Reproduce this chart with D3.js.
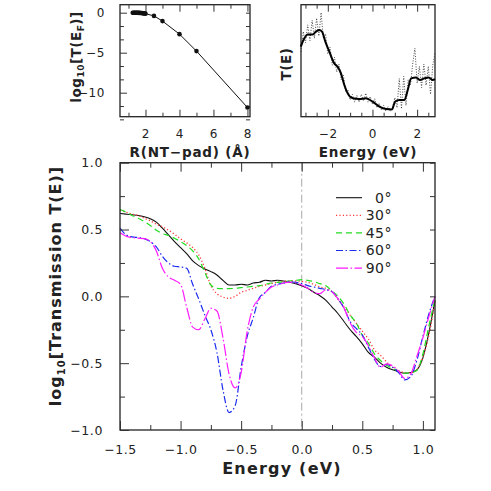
<!DOCTYPE html>
<html>
<head>
<meta charset="utf-8">
<script src="https://cdn.jsdelivr.net/npm/d3@7"></script>
<style>
  body { margin: 0; background: #fff; }
  text { font-family: "DejaVu Sans", sans-serif; fill: #222; }
  .tick text { font-size: 12px; letter-spacing: 0.6px; }
  .domain { display: none; }
  .tick line { stroke: #333; stroke-width: 1; }
</style>
</head>
<body>
<div id="chart"></div>
<script>
// ---- data: inset 1, log10 T(E_F) versus NT-pad distance ----
var padR = [1.25, 1.3, 1.35, 1.4, 1.45, 1.5, 1.55, 1.6, 1.65, 1.7, 1.75, 1.8, 1.85, 1.9, 1.95, 2.0, 2.5, 3, 4, 5, 8];
var padLogT = [0, 0, 0, 0, 0, -0.01, -0.01, -0.02, -0.02, -0.03, -0.04, -0.05, -0.06, -0.08, -0.1, -0.12, -0.4, -1.05, -2.68, -4.8, -11.85];

// ---- data: inset 2, T(E) raw (dotted) and smoothed (solid), arbitrary units ----
var rawE = [-3.2, -3.1, -3.0, -2.9, -2.8, -2.7, -2.6, -2.5, -2.4, -2.3, -2.2, -2.1, -2.0, -1.9, -1.8, -1.7, -1.6, -1.5, -1.4, -1.3,
            -1.2, -1.1, -1.0, -0.9, -0.8, -0.7, -0.6, -0.5, -0.4, -0.3, -0.2, -0.1, 0.0, 0.1, 0.2, 0.3, 0.4, 0.5, 0.6, 0.7,
            0.8, 0.9, 1.0, 1.1, 1.2, 1.3, 1.4, 1.5, 1.6, 1.7, 1.8, 1.9, 2.0, 2.1, 2.2, 2.3, 2.4, 2.5, 2.6, 2.7, 2.8];
var rawT = [0.58, 0.76, 0.66, 0.82, 0.68, 0.86, 0.70, 0.88, 0.72, 0.93, 0.70, 0.74, 0.56, 0.62, 0.46, 0.53, 0.40, 0.47, 0.33, 0.37,
            0.22, 0.24, 0.15, 0.20, 0.13, 0.19, 0.13, 0.20, 0.14, 0.21, 0.13, 0.18, 0.11, 0.16, 0.08, 0.12, 0.06, 0.10, 0.05, 0.09,
            0.05, 0.08, 0.17, 0.08, 0.34, 0.07, 0.36, 0.10, 0.33, 0.28, 0.47, 0.61, 0.30, 0.45, 0.26, 0.47, 0.28, 0.45, 0.20, 0.46, 0.57];
var smoothE = [-3.21, -3.05, -2.9, -2.68, -2.53, -2.38, -2.26, -2.11, -1.93, -1.71, -1.56, -1.41, -1.26, -1.11, -0.88, -0.59, -0.29, 0.01,
               0.31, 0.61, 0.875, 1.01, 1.2, 1.43, 1.58, 1.73, 1.95, 2.13, 2.32, 2.52, 2.7, 2.8];
var smoothT = [0.625, 0.70, 0.735, 0.735, 0.76, 0.774, 0.76, 0.67, 0.58, 0.476, 0.446, 0.387, 0.283, 0.208, 0.164, 0.158, 0.164, 0.134,
               0.089, 0.068, 0.065, 0.134, 0.149, 0.149, 0.238, 0.342, 0.351, 0.327, 0.342, 0.351, 0.327, 0.335];

// ---- data: main panel, log10 transmission for each angle ----
var energy = [-1.5, -1.45, -1.4, -1.35, -1.3, -1.25, -1.2, -1.15, -1.1, -1.05, -1.0, -0.95, -0.9, -0.85, -0.8, -0.75, -0.7, -0.65,
              -0.6, -0.55, -0.5, -0.45, -0.4, -0.35, -0.3, -0.25, -0.2, -0.15, -0.1, -0.05, 0.0, 0.05, 0.1, 0.15, 0.2, 0.25,
              0.3, 0.35, 0.4, 0.45, 0.5, 0.55, 0.6, 0.65, 0.7, 0.75, 0.8, 0.85, 0.9, 0.95, 1.0, 1.05, 1.1];
var angles = ["0°", "30°", "45°", "60°", "90°"];
var t0 = [0.62, 0.615, 0.61, 0.605, 0.595, 0.58, 0.555, 0.51, 0.46, 0.41, 0.365, 0.32, 0.265, 0.23, 0.205, 0.185, 0.16, 0.12,
          0.085, 0.085, 0.09, 0.085, 0.1, 0.105, 0.12, 0.115, 0.12, 0.115, 0.105, 0.095, 0.08, 0.06, 0.03, 0.005, -0.03, -0.08,
          -0.13, -0.19, -0.25, -0.3, -0.355, -0.42, -0.455, -0.5, -0.53, -0.55, -0.565, -0.575, -0.57, -0.55, -0.46, -0.27, -0.03];
var t30 = [0.645, 0.63, 0.615, 0.605, 0.585, 0.565, 0.54, 0.52, 0.495, 0.465, 0.43, 0.4, 0.365, 0.31, 0.21, 0.08, 0.02, -0.005,
           -0.015, 0.0, 0.03, 0.045, 0.06, 0.075, 0.085, 0.095, 0.105, 0.112, 0.115, 0.115, 0.112, 0.105, 0.09, 0.07, 0.06, 0.035,
           -0.02, -0.08, -0.14, -0.2, -0.26, -0.32, -0.4, -0.44, -0.49, -0.53, -0.555, -0.57, -0.57, -0.545, -0.455, -0.29, -0.04];
var t45 = [0.65, 0.63, 0.605, 0.585, 0.56, 0.53, 0.495, 0.47, 0.455, 0.435, 0.41, 0.38, 0.34, 0.28, 0.18, 0.085, 0.06, 0.058,
           0.058, 0.06, 0.065, 0.07, 0.075, 0.08, 0.09, 0.1, 0.105, 0.11, 0.115, 0.12, 0.125, 0.12, 0.11, 0.095, 0.08, 0.04,
           0.0, -0.06, -0.14, -0.2, -0.29, -0.35, -0.43, -0.48, -0.515, -0.54, -0.56, -0.575, -0.57, -0.555, -0.43, -0.22, -0.02];
var t60 = [0.51, 0.46, 0.445, 0.44, 0.432, 0.41, 0.37, 0.3, 0.25, 0.225, 0.22, 0.21, 0.09, -0.02, -0.14, -0.25, -0.42, -0.7,
           -0.87, -0.82, -0.53, -0.3, -0.16, -0.01, 0.03, 0.075, 0.09, 0.1, 0.11, 0.105, 0.095, 0.08, 0.07, 0.06, 0.05, 0.035,
           -0.02, -0.09, -0.19, -0.24, -0.29, -0.38, -0.47, -0.525, -0.51, -0.53, -0.57, -0.625, -0.6, -0.48, -0.3, -0.13, 0.0];
var t90 = [0.475, 0.45, 0.44, 0.435, 0.432, 0.41, 0.34, 0.21, 0.145, 0.12, 0.09, -0.08, -0.23, -0.25, -0.17, -0.09, -0.11, -0.31,
           -0.58, -0.685, -0.57, -0.26, -0.08, -0.02, 0.03, 0.07, 0.085, 0.1, 0.107, 0.1, 0.085, 0.06, 0.03, 0.02, 0.05, 0.035,
           -0.02, -0.09, -0.2, -0.27, -0.3, -0.37, -0.46, -0.53, -0.505, -0.52, -0.56, -0.615, -0.58, -0.45, -0.31, -0.15, 0.0];

var W = 491, H = 491;
var svg = d3.select("#chart").append("svg")
    .attr("width", W)
    .attr("height", H);

// helper: draw a frame with inward major/minor ticks on all sides
function frame(g, x, y, opt) {
    var x0 = x.range()[0], x1 = x.range()[1], y0 = y.range()[1], y1 = y.range()[0];
    g.append("rect")
        .attr("x", x0).attr("y", y0)
        .attr("width", x1 - x0).attr("height", y1 - y0)
        .attr("fill", "none").attr("stroke", "#222").attr("stroke-width", 1.3);
    if (opt.xMinor) {
        g.append("g").attr("transform", "translate(0," + y1 + ")")
            .call(d3.axisBottom(x).tickValues(opt.xMinor).tickSize(-opt.minor).tickFormat(""));
        g.append("g").attr("transform", "translate(0," + y0 + ")")
            .call(d3.axisTop(x).tickValues(opt.xMinor).tickSize(-opt.minor).tickFormat(""));
    }
    if (opt.xMajor) {
        g.append("g").attr("transform", "translate(0," + y1 + ")")
            .call(d3.axisBottom(x).tickValues(opt.xMajor).tickSize(-opt.major).tickPadding(opt.major + 6).tickFormat(opt.xFormat));
        g.append("g").attr("transform", "translate(0," + y0 + ")")
            .call(d3.axisTop(x).tickValues(opt.xMajor).tickSize(-opt.major).tickFormat(""));
    }
    if (opt.yMinor) {
        g.append("g").attr("transform", "translate(" + x0 + ",0)")
            .call(d3.axisLeft(y).tickValues(opt.yMinor).tickSize(-opt.minor).tickFormat(""));
        g.append("g").attr("transform", "translate(" + x1 + ",0)")
            .call(d3.axisRight(y).tickValues(opt.yMinor).tickSize(-opt.minor).tickFormat(""));
    }
    if (opt.yMajor) {
        g.append("g").attr("transform", "translate(" + x0 + ",0)")
            .call(d3.axisLeft(y).tickValues(opt.yMajor).tickSize(-opt.major).tickPadding(opt.major + 8).tickFormat(opt.yFormat));
        g.append("g").attr("transform", "translate(" + x1 + ",0)")
            .call(d3.axisRight(y).tickValues(opt.yMajor).tickSize(-opt.minor).tickFormat(""));
    }
    g.selectAll(".tick text").attr("fill", "#222");
}

var minus = function(f) { return function(d) { return d3.format(f)(d).replace("-", "−"); }; };

// ================= inset 1 =================
var xa = d3.scaleLinear().domain([0.5, 8.15]).range([120, 250]);
var ya = d3.scaleLinear().domain([-13, 1]).range([116.7, 4.7]);
var ga = svg.append("g");
frame(ga, xa, ya, {
    xMinor: [1, 3, 5, 7], xMajor: [2, 4, 6, 8], xFormat: d3.format("d"),
    yMinor: [-5/3, -10/3, -20/3, -25/3, -35/3, -40/3 + 0.001], yMajor: [0, -5, -10], yFormat: minus("d"),
    minor: 4, major: 7
});
ga.append("path")
    .datum(d3.zip(padR, padLogT))
    .attr("fill", "none").attr("stroke", "#111").attr("stroke-width", 1)
    .attr("d", d3.line().x(function(d) { return xa(d[0]); }).y(function(d) { return ya(d[1]); }));
ga.selectAll("circle").data(d3.zip(padR, padLogT)).enter().append("circle")
    .attr("cx", function(d) { return xa(d[0]); })
    .attr("cy", function(d) { return ya(d[1]); })
    .attr("r", 2.3).attr("fill", "#111");
ga.append("text").attr("x", 190).attr("y", 157).attr("text-anchor", "middle")
    .style("font-size", "13.5px").style("font-weight", "bold").style("letter-spacing", "0.8px")
    .text("R(NT−pad) (Å)");
var yla = ga.append("text").attr("transform", "translate(81,57) rotate(-90)").attr("text-anchor", "middle")
    .style("font-size", "13.5px").style("font-weight", "bold").style("letter-spacing", "0.5px");
yla.append("tspan").text("log");
yla.append("tspan").attr("dy", 3).style("font-size", "9px").text("10");
yla.append("tspan").attr("dy", -3).text("[T(E");
yla.append("tspan").attr("dy", 3).style("font-size", "9px").text("F");
yla.append("tspan").attr("dy", -3).text(")]");

// ================= inset 2 =================
var xb = d3.scaleLinear().domain([-3.2, 2.8]).range([301, 435]);
var yb = d3.scaleLinear().domain([0, 1]).range([116.7, 4.7]);
var gb = svg.append("g");
frame(gb, xb, yb, {
    xMinor: [-3, -2.5, -1.5, -1, -0.5, 0.5, 1, 1.5, 2.5], xMajor: [-2, 0, 2], xFormat: minus("d"),
    minor: 4, major: 7
});
gb.append("path")
    .datum(d3.zip(rawE, rawT))
    .attr("fill", "none").attr("stroke", "#333").attr("stroke-width", 0.9).attr("stroke-dasharray", "1,1.6")
    .attr("d", d3.line().x(function(d) { return xb(d[0]); }).y(function(d) { return yb(d[1]); }));
gb.append("path")
    .datum(d3.zip(smoothE, smoothT))
    .attr("fill", "none").attr("stroke", "#000").attr("stroke-width", 2)
    .attr("d", d3.line().curve(d3.curveMonotoneX).x(function(d) { return xb(d[0]); }).y(function(d) { return yb(d[1]); }));
gb.append("text").attr("x", 368).attr("y", 157).attr("text-anchor", "middle")
    .style("font-size", "13.5px").style("font-weight", "bold").style("letter-spacing", "0.8px")
    .text("Energy (eV)");
gb.append("text").attr("transform", "translate(291,64) rotate(-90)").attr("text-anchor", "middle")
    .style("font-size", "13.5px").style("font-weight", "bold").style("letter-spacing", "0.5px")
    .text("T(E)");

// ================= main panel =================
var x = d3.scaleLinear().domain([-1.5, 1.1]).range([120, 435]);
var y = d3.scaleLinear().domain([-1, 1]).range([430, 162.7]);
var gm = svg.append("g");

// vertical line at the Fermi energy
gm.append("line")
    .attr("x1", x(0)).attr("x2", x(0)).attr("y1", y(1)).attr("y2", y(-1))
    .attr("stroke", "#aaa").attr("stroke-width", 1).attr("stroke-dasharray", "8,3,2,3");

var series = [
    {name: angles[0], values: t0,  color: "#111",    dash: null,            width: 1.1},
    {name: angles[1], values: t30, color: "#ff3b3b", dash: "1.2,2.2",       width: 1.3},
    {name: angles[2], values: t45, color: "#22dd22", dash: "6,4",           width: 1.2},
    {name: angles[3], values: t60, color: "#1a2cf0", dash: "7,2.5,1.5,2.5", width: 1.2},
    {name: angles[4], values: t90, color: "#ff1aff", dash: "12,2.5,1.5,2.5", width: 1.2}
];

var line = d3.line().curve(d3.curveMonotoneX)
    .x(function(d) { return x(d[0]); })
    .y(function(d) { return y(d[1]); });

series.forEach(function(s) {
    gm.append("path")
        .datum(d3.zip(energy, s.values))
        .attr("fill", "none")
        .attr("stroke", s.color)
        .attr("stroke-width", s.width)
        .attr("stroke-dasharray", s.dash)
        .attr("d", line);
});

frame(gm, x, y, {
    xMinor: [-1.25, -0.75, -0.25, 0.25, 0.75], xMajor: [-1.5, -1, -0.5, 0, 0.5, 1], xFormat: minus(".1f"),
    yMinor: [-0.75, -0.25, 0.25, 0.75], yMajor: [-1, -0.5, 0, 0.5, 1], yFormat: minus(".1f"),
    minor: 5, major: 9
});
gm.selectAll(".tick text").style("font-size", "12.5px");

// legend
var leg = gm.append("g");
series.forEach(function(s, i) {
    var ly = 197.7 + i * 17.6;
    leg.append("line")
        .attr("x1", 336).attr("x2", 362).attr("y1", ly).attr("y2", ly)
        .attr("stroke", s.color).attr("stroke-width", s.width).attr("stroke-dasharray", s.dash);
    leg.append("text")
        .attr("x", 392).attr("y", ly).attr("dy", "0.35em").attr("text-anchor", "end")
        .style("font-size", "14px").style("letter-spacing", "0.5px")
        .text(s.name);
});

gm.append("text").attr("x", 282).attr("y", 474).attr("text-anchor", "middle")
    .style("font-size", "16px").style("font-weight", "bold").style("letter-spacing", "1.2px")
    .text("Energy (eV)");
var ylm = gm.append("text").attr("transform", "translate(61,286) rotate(-90)").attr("text-anchor", "middle")
    .style("font-size", "16px").style("font-weight", "bold").style("letter-spacing", "1px");
ylm.append("tspan").text("log");
ylm.append("tspan").attr("dy", 4).style("font-size", "10px").text("10");
ylm.append("tspan").attr("dy", -4).text("[Transmission T(E)]");
</script>
</body>
</html>
